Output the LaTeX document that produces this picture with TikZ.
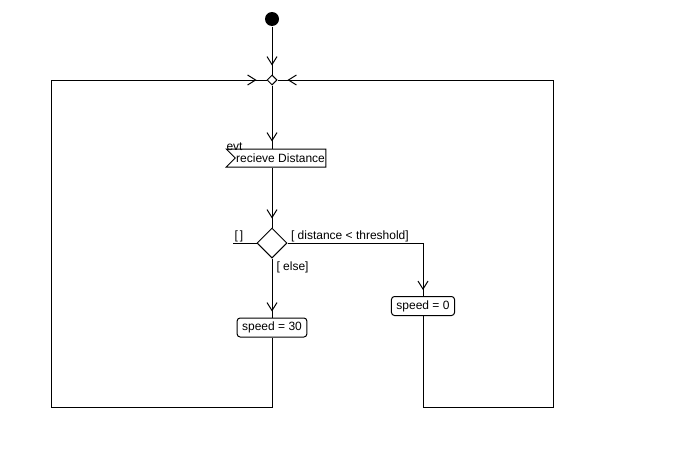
\documentclass[tikz,border=0pt]{standalone}
\usepackage{fontspec}
\setmainfont{Liberation Sans}
\usetikzlibrary{positioning,shapes,decorations.markings,arrows.meta}

\begin{document}
\begin{tikzpicture}[x=1pt,y=-1pt,line width=1pt,
    font=\fontsize{12}{14}\selectfont,
    initial/.style={
        circle,
        fill=black,
        minimum size=14pt,
        inner sep=0pt},
    merge/.style={
        diamond,
        draw=black,
        minimum size=10pt,
        inner sep=0pt},
    decision/.style={
        diamond,
        draw=black,
        minimum size=30pt,
        inner sep=0pt},
    action/.style={
    % The shape:
        rectangle,
        rounded corners=3pt,
        minimum height=19pt,
        % The rest
        draw=black,
        inner xsep=5pt, inner ysep=2pt,
        align=center},
    receive/.style={
        signal,
        signal to=nowhere,
        signal from=west,
        draw=black,
        minimum height=18pt,
        inner xsep=1pt, inner ysep=2pt},
    guard/.style={inner sep=1pt},
    flow/.style={
        postaction={decorate},
        decoration={markings,
            mark=at position -#1 with {\arrow{Straight Barb[length=8pt,width=10pt]}}}},
    flow/.default=9pt]

    \useasboundingbox (0,0) rectangle (698,466);

    \node (start) [initial] at (272,19) {};
    \node (mrg) [merge, below=48pt of start] {};
    \node (recv) [receive, below right=63pt and -47pt of mrg.south] {recieve Distance};
    \node (dec) [decision] at (272,243) {};
    \node (s30) [action, below=59pt of dec] {speed = 30};
    \node (s0) [action] at (423,306) {speed = 0};

    \node[above right, guard, yshift=-4pt] at (recv.north west) {evt};

    \coordinate (stub) at (233,243);
    \coordinate (loopL) at (51,407);
    \coordinate (loopR) at (553,407);

    \draw[flow] (start) -- (mrg);
    \draw[flow=7pt] (mrg) -- (mrg |- recv.north);
    \draw[flow] (mrg |- recv.south) -- (dec);

    \draw (stub) -- (dec.west);
    \node[above right, guard] at (stub) {[\,]};

    \draw[flow=6pt] (dec.east) -| (s0.north);
    \node[above right, guard, xshift=2pt] at (dec.east) {[ distance < threshold]};

    \draw[flow=6pt] (dec.south) -- (s30.north);
    \node[below right, guard, xshift=3pt, yshift=-2pt] at (dec.south) {[ else]};

    \draw[flow=10pt] (s30.south) |- (loopL) |- (mrg.west);
    \draw[flow=10pt] (s0.south) |- (loopR) |- (mrg.east);
\end{tikzpicture}
\end{document}
